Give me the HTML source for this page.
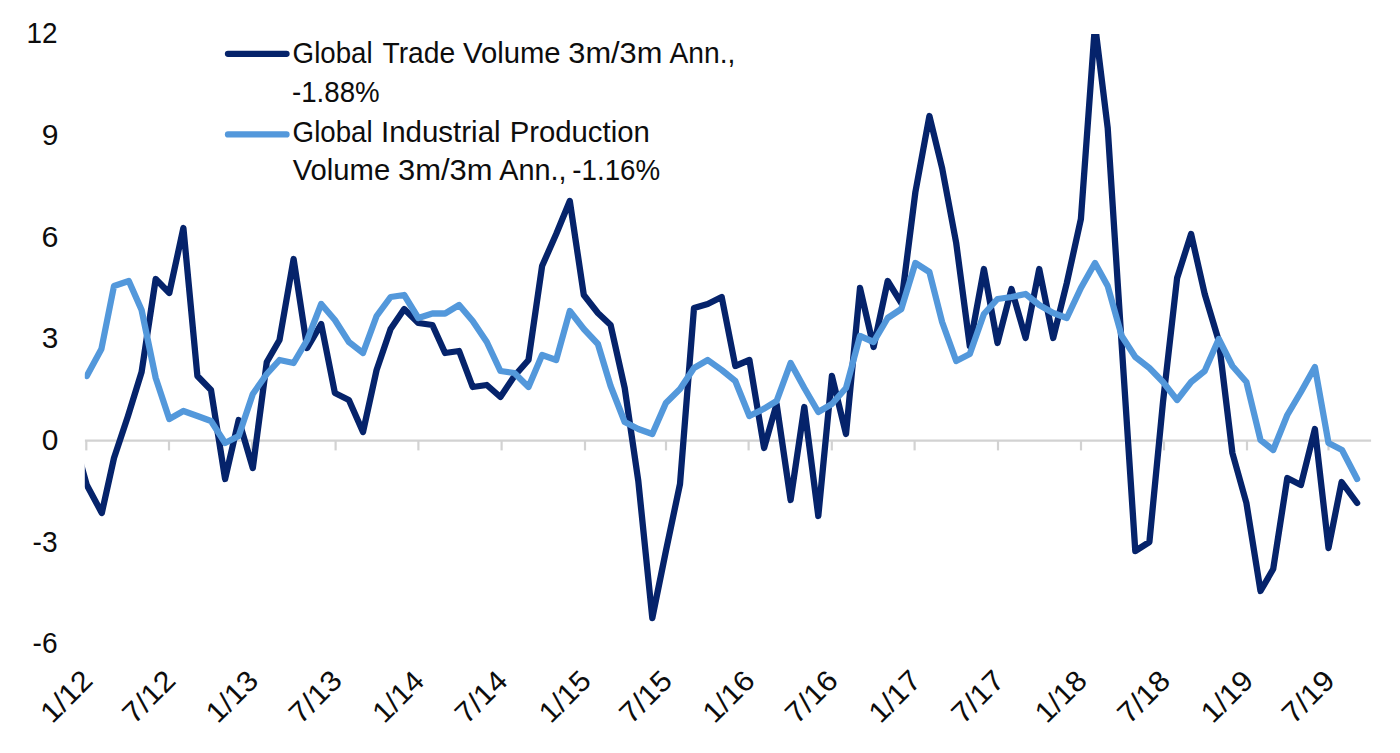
<!DOCTYPE html>
<html><head><meta charset="utf-8"><title>Global Trade Volume vs Industrial Production</title>
<style>html,body{margin:0;padding:0;background:#fff;}svg{display:block;}</style></head><body>
<svg width="1400" height="753" viewBox="0 0 1400 753">
<rect width="1400" height="753" fill="#ffffff"/>
<defs><clipPath id="plot"><rect x="84.8" y="34.1" width="1290" height="620"/></clipPath></defs>
<g stroke="#d2d2d2" stroke-width="2.2" fill="none">
<line x1="84.9" y1="440.7" x2="1371.1" y2="440.7"/>
<line x1="86.3" y1="440.7" x2="86.3" y2="450.4"/>
<line x1="169.0" y1="440.7" x2="169.0" y2="450.4"/>
<line x1="252.0" y1="440.7" x2="252.0" y2="450.4"/>
<line x1="335.6" y1="440.7" x2="335.6" y2="450.4"/>
<line x1="418.4" y1="440.7" x2="418.4" y2="450.4"/>
<line x1="501.6" y1="440.7" x2="501.6" y2="450.4"/>
<line x1="585.0" y1="440.7" x2="585.0" y2="450.4"/>
<line x1="666.0" y1="440.7" x2="666.0" y2="450.4"/>
<line x1="748.6" y1="440.7" x2="748.6" y2="450.4"/>
<line x1="831.8" y1="440.7" x2="831.8" y2="450.4"/>
<line x1="914.6" y1="440.7" x2="914.6" y2="450.4"/>
<line x1="998.0" y1="440.7" x2="998.0" y2="450.4"/>
<line x1="1081.0" y1="440.7" x2="1081.0" y2="450.4"/>
<line x1="1164.0" y1="440.7" x2="1164.0" y2="450.4"/>
<line x1="1247.0" y1="440.7" x2="1247.0" y2="450.4"/>
<line x1="1328.5" y1="440.7" x2="1328.5" y2="450.4"/>
</g>
<text x="26.41" y="43.0" font-family="'Liberation Sans', sans-serif" font-size="29" fill="#0d0d0d" textLength="31.06" lengthAdjust="spacingAndGlyphs">12</text>
<text x="41.65" y="145.1" font-family="'Liberation Sans', sans-serif" font-size="29" fill="#0d0d0d" textLength="16.74" lengthAdjust="spacingAndGlyphs">9</text>
<text x="41.48" y="246.8" font-family="'Liberation Sans', sans-serif" font-size="29" fill="#0d0d0d" textLength="16.93" lengthAdjust="spacingAndGlyphs">6</text>
<text x="41.81" y="348.4" font-family="'Liberation Sans', sans-serif" font-size="29" fill="#0d0d0d" textLength="16.57" lengthAdjust="spacingAndGlyphs">3</text>
<text x="41.80" y="450.0" font-family="'Liberation Sans', sans-serif" font-size="29" fill="#0d0d0d" textLength="16.63" lengthAdjust="spacingAndGlyphs">0</text>
<text x="32.53" y="551.6" font-family="'Liberation Sans', sans-serif" font-size="29" fill="#0d0d0d" textLength="25.01" lengthAdjust="spacingAndGlyphs">-3</text>
<text x="32.53" y="653.2" font-family="'Liberation Sans', sans-serif" font-size="29" fill="#0d0d0d" textLength="25.01" lengthAdjust="spacingAndGlyphs">-6</text>
<text transform="translate(93.3,683.4) rotate(-45)" x="-58.20" y="0" font-family="'Liberation Sans', sans-serif" font-size="29" fill="#0d0d0d" textLength="59.78" lengthAdjust="spacingAndGlyphs">1/12</text>
<text transform="translate(176.0,683.4) rotate(-45)" x="-59.06" y="0" font-family="'Liberation Sans', sans-serif" font-size="29" fill="#0d0d0d" textLength="60.66" lengthAdjust="spacingAndGlyphs">7/12</text>
<text transform="translate(259.0,683.4) rotate(-45)" x="-58.20" y="0" font-family="'Liberation Sans', sans-serif" font-size="29" fill="#0d0d0d" textLength="59.62" lengthAdjust="spacingAndGlyphs">1/13</text>
<text transform="translate(342.6,683.4) rotate(-45)" x="-59.05" y="0" font-family="'Liberation Sans', sans-serif" font-size="29" fill="#0d0d0d" textLength="60.49" lengthAdjust="spacingAndGlyphs">7/13</text>
<text transform="translate(425.4,683.4) rotate(-45)" x="-58.18" y="0" font-family="'Liberation Sans', sans-serif" font-size="29" fill="#0d0d0d" textLength="59.13" lengthAdjust="spacingAndGlyphs">1/14</text>
<text transform="translate(508.6,683.4) rotate(-45)" x="-59.04" y="0" font-family="'Liberation Sans', sans-serif" font-size="29" fill="#0d0d0d" textLength="60.01" lengthAdjust="spacingAndGlyphs">7/14</text>
<text transform="translate(592.0,683.4) rotate(-45)" x="-58.19" y="0" font-family="'Liberation Sans', sans-serif" font-size="29" fill="#0d0d0d" textLength="59.45" lengthAdjust="spacingAndGlyphs">1/15</text>
<text transform="translate(673.0,683.4) rotate(-45)" x="-59.05" y="0" font-family="'Liberation Sans', sans-serif" font-size="29" fill="#0d0d0d" textLength="60.33" lengthAdjust="spacingAndGlyphs">7/15</text>
<text transform="translate(755.6,683.4) rotate(-45)" x="-58.20" y="0" font-family="'Liberation Sans', sans-serif" font-size="29" fill="#0d0d0d" textLength="59.62" lengthAdjust="spacingAndGlyphs">1/16</text>
<text transform="translate(838.8,683.4) rotate(-45)" x="-59.05" y="0" font-family="'Liberation Sans', sans-serif" font-size="29" fill="#0d0d0d" textLength="60.49" lengthAdjust="spacingAndGlyphs">7/16</text>
<text transform="translate(921.6,683.4) rotate(-45)" x="-58.20" y="0" font-family="'Liberation Sans', sans-serif" font-size="29" fill="#0d0d0d" textLength="59.78" lengthAdjust="spacingAndGlyphs">1/17</text>
<text transform="translate(1005.0,683.4) rotate(-45)" x="-59.06" y="0" font-family="'Liberation Sans', sans-serif" font-size="29" fill="#0d0d0d" textLength="60.66" lengthAdjust="spacingAndGlyphs">7/17</text>
<text transform="translate(1088.0,683.4) rotate(-45)" x="-58.19" y="0" font-family="'Liberation Sans', sans-serif" font-size="29" fill="#0d0d0d" textLength="59.45" lengthAdjust="spacingAndGlyphs">1/18</text>
<text transform="translate(1171.0,683.4) rotate(-45)" x="-59.05" y="0" font-family="'Liberation Sans', sans-serif" font-size="29" fill="#0d0d0d" textLength="60.33" lengthAdjust="spacingAndGlyphs">7/18</text>
<text transform="translate(1254.0,683.4) rotate(-45)" x="-58.20" y="0" font-family="'Liberation Sans', sans-serif" font-size="29" fill="#0d0d0d" textLength="59.62" lengthAdjust="spacingAndGlyphs">1/19</text>
<text transform="translate(1335.5,683.4) rotate(-45)" x="-59.05" y="0" font-family="'Liberation Sans', sans-serif" font-size="29" fill="#0d0d0d" textLength="60.49" lengthAdjust="spacingAndGlyphs">7/19</text>
<g clip-path="url(#plot)" fill="none" stroke-linejoin="round" stroke-linecap="round" stroke-width="6.3">
<polyline stroke="#05236b" points="72.8,435 86.8,485 101.8,513 114.0,458 128.0,416 141.6,372 155.7,279 169.3,293 183.4,228 197.4,376 211.0,390 225.1,479 238.7,420 252.8,468 266.8,362 279.5,340 293.6,259 307.2,348 321.2,324 334.9,393 348.9,400 363.0,432 376.6,370 390.6,329 404.2,309 418.3,323 432.4,325 445.1,353 459.1,351 472.7,387 486.8,385 500.4,397 514.4,376 528.5,360 542.1,266 556.2,234 569.8,201 583.8,295 597.9,313 610.6,325 624.7,388 638.3,481 652.3,618 665.9,551 680.0,484 694.0,308 707.7,304 721.7,297 735.3,366 749.4,360 764.1,448 776.6,404 790.6,500 804.3,407 818.3,516 831.9,376 846.0,434 860.0,288 873.6,347 887.7,281 901.3,303 915.4,192 929.4,116 942.1,168 956.2,243 969.8,346 983.9,269 997.5,343 1011.5,289 1025.6,338 1039.2,269 1053.2,338 1066.8,283 1080.9,219 1095.0,24.5 1107.7,128 1121.7,345 1135.3,551 1149.4,542 1163.0,402 1177.1,278 1191.1,234 1204.7,294 1218.8,341 1232.4,453 1246.4,503 1260.5,591 1273.2,569 1287.3,478 1300.9,485 1314.9,429 1328.5,548 1341.6,482 1357.1,503"/>
<polyline stroke="#5398db" points="86.8,376 101.4,349 114.0,286 128.8,281 141.6,310 155.7,378 169.3,419 183.4,411 197.4,416 211.0,421 225.1,443 238.7,436 252.8,394 266.8,374 279.5,360 293.6,363 307.2,340 321.2,304 334.9,320 348.9,342 363.0,353 376.6,316 390.6,297 404.2,295 418.3,318 432.4,313.5 445.1,313.5 459.1,305 472.7,321 486.8,342 500.4,371 514.4,373 528.5,387 542.1,355 556.2,360 569.8,311 583.8,329 597.9,344 610.6,386 624.7,422 638.3,429 652.3,434 665.9,403 680.0,389 694.0,368 707.7,360 721.7,370 735.3,381 749.4,416 763.4,409 776.6,401 790.6,363 804.3,388 818.3,412 831.9,404 846.0,388 860.0,336 873.6,342 887.7,318 901.3,309 915.4,263 929.4,272 942.1,322 956.2,361 969.8,354 983.9,314 997.5,299 1011.5,297 1025.6,294 1039.2,305 1053.2,313 1066.8,318 1080.9,288 1095.0,263 1107.7,286 1121.7,336 1135.3,357 1149.4,368 1163.0,382 1177.1,400 1191.1,382 1204.7,371 1218.8,339 1232.4,366 1246.4,382 1260.5,440 1273.2,450 1287.3,415 1300.9,392 1314.9,367 1328.5,443 1342.0,450 1357.1,479"/>
</g>
<g fill="none" stroke-linecap="round" stroke-width="6.3"><line x1="228" y1="53.8" x2="286.5" y2="53.8" stroke="#05236b"/><line x1="228" y1="134.4" x2="286.5" y2="134.4" stroke="#5398db"/></g>
<text x="292.62" y="63.2" font-family="'Liberation Sans', sans-serif" font-size="29" fill="#0d0d0d" textLength="80.00" lengthAdjust="spacingAndGlyphs">Global</text>
<text x="382.49" y="63.2" font-family="'Liberation Sans', sans-serif" font-size="29" fill="#0d0d0d" textLength="72.68" lengthAdjust="spacingAndGlyphs">Trade</text>
<text x="463.05" y="63.2" font-family="'Liberation Sans', sans-serif" font-size="29" fill="#0d0d0d" textLength="97.58" lengthAdjust="spacingAndGlyphs">Volume</text>
<text x="568.27" y="63.2" font-family="'Liberation Sans', sans-serif" font-size="29" fill="#0d0d0d" textLength="94.07" lengthAdjust="spacingAndGlyphs">3m/3m</text>
<text x="669.56" y="63.2" font-family="'Liberation Sans', sans-serif" font-size="29" fill="#0d0d0d" textLength="65.88" lengthAdjust="spacingAndGlyphs">Ann.,</text>
<text x="291.95" y="102.2" font-family="'Liberation Sans', sans-serif" font-size="29" fill="#0d0d0d" textLength="87.71" lengthAdjust="spacingAndGlyphs">-1.88%</text>
<text x="292.62" y="142.2" font-family="'Liberation Sans', sans-serif" font-size="29" fill="#0d0d0d" textLength="80.00" lengthAdjust="spacingAndGlyphs">Global</text>
<text x="380.95" y="142.2" font-family="'Liberation Sans', sans-serif" font-size="29" fill="#0d0d0d" textLength="119.65" lengthAdjust="spacingAndGlyphs">Industrial</text>
<text x="509.65" y="142.2" font-family="'Liberation Sans', sans-serif" font-size="29" fill="#0d0d0d" textLength="140.17" lengthAdjust="spacingAndGlyphs">Production</text>
<text x="292.75" y="180.4" font-family="'Liberation Sans', sans-serif" font-size="29" fill="#0d0d0d" textLength="97.37" lengthAdjust="spacingAndGlyphs">Volume</text>
<text x="397.96" y="180.4" font-family="'Liberation Sans', sans-serif" font-size="29" fill="#0d0d0d" textLength="94.48" lengthAdjust="spacingAndGlyphs">3m/3m</text>
<text x="499.26" y="180.4" font-family="'Liberation Sans', sans-serif" font-size="29" fill="#0d0d0d" textLength="67.34" lengthAdjust="spacingAndGlyphs">Ann.,</text>
<text x="572.35" y="180.4" font-family="'Liberation Sans', sans-serif" font-size="29" fill="#0d0d0d" textLength="87.81" lengthAdjust="spacingAndGlyphs">-1.16%</text>
</svg></body></html>
